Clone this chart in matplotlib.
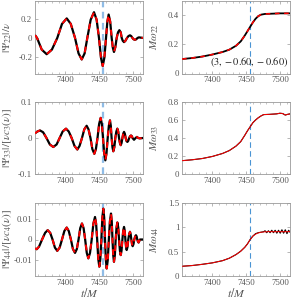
import numpy as np
import matplotlib
matplotlib.use('Agg')
import matplotlib.pyplot as plt
from matplotlib.ticker import MultipleLocator

plt.rcParams['font.family'] = 'serif'
plt.rcParams['font.serif'] = ['Liberation Serif', 'DejaVu Serif']
plt.rcParams['mathtext.fontset'] = 'stix'
plt.rcParams['axes.unicode_minus'] = False

# ---- data ----
t_peak = 7455.3
params_label = r'$(3, -0.60, -0.60)$'

t22 = [7355, 7358, 7365, 7372.3, 7380, 7388, 7395, 7402, 7408, 7414.3, 7419.5, 7424.2,
       7428.5, 7432.5, 7437.5, 7442.4, 7446.3, 7449.8, 7452.7, 7455.3, 7457.8, 7460.2,
       7462.2, 7464.1, 7466.4, 7468.6, 7470.3, 7472, 7474, 7476, 7478, 7480, 7482, 7483.5,
       7485, 7486.9, 7489, 7491.3, 7493.5, 7495.7, 7497.5, 7499.4, 7501, 7503, 7505, 7507,
       7509, 7511, 7515]
psi22 = [0.03, 0.0, -0.125, -0.174, -0.125, 0.0, 0.15, 0.209, 0.15, 0.0, -0.165, -0.23,
         -0.165, 0.0, 0.195, 0.275, 0.195, 0.0, -0.21, -0.30, -0.21, 0.0,
         0.175, 0.25, 0.175, 0.0, -0.105, -0.15, -0.1, 0.0, 0.06, 0.083, 0.06, 0.0,
         -0.03, -0.045, -0.03, 0.0, 0.02, 0.028, 0.02, 0.0, -0.014, -0.02, -0.014, 0.0,
         0.006, 0.004, 0.0]

t33 = [7355, 7358.5, 7362.4, 7367, 7372, 7377, 7382.1, 7387, 7391.5, 7396, 7400.9, 7405,
       7409.3, 7413.5, 7417.7, 7421, 7424.6, 7428, 7431.5, 7434.3, 7437.2, 7440, 7442.9,
       7445.2, 7447.6, 7450, 7452.3, 7454, 7455.8, 7457.5, 7459.2, 7460.9, 7462.7, 7464.4,
       7466.1, 7467.3, 7468.5, 7469.8, 7471, 7472.5, 7474, 7475.5, 7477, 7478.3, 7479.5,
       7480.8, 7482, 7483.2, 7484.5, 7485.7, 7486.9, 7488.1, 7489.3, 7490.5, 7491.8,
       7493.1, 7494.5, 7495.9, 7497.2, 7498.5, 7499.5, 7501.7, 7504, 7506, 7508, 7510, 7515]
psi33 = [0.013, 0.018, 0.021, 0.016, 0.0, -0.018, -0.025, -0.018, 0.0, 0.018, 0.026, 0.018,
         0.0, -0.022, -0.032, -0.022, 0.0, 0.024, 0.034, 0.024, 0.0, -0.031, -0.044,
         -0.031, 0.0, 0.039, 0.056, 0.039, 0.0, -0.043, -0.062, -0.043, 0.0, 0.034,
         0.049, 0.034, 0.0, -0.026, -0.037, -0.026, 0.0, 0.018, 0.026, 0.018, 0.0,
         -0.014, -0.02, -0.014, 0.0, 0.012, 0.017, 0.012, 0.0, -0.008, -0.011,
         -0.008, 0.0, 0.005, 0.007, 0.005, 0.0, -0.005, 0.0, 0.003, 0.0, -0.001, 0.0]

t44 = [7355, 7357.5, 7361, 7365.5, 7370, 7373.8, 7377.5, 7381, 7384.5, 7388, 7391.5, 7395,
       7398.5, 7402, 7405, 7408.2, 7411.2, 7414.3, 7417, 7419.5, 7422, 7424.6, 7427,
       7429.3, 7431.7, 7434, 7436.5, 7439, 7441.5, 7443.9, 7445.5, 7447.1, 7448.7, 7450.3,
       7451.8, 7453.3, 7454.8, 7456.2, 7457.5, 7458.7, 7460, 7461.2, 7462.8, 7464.4, 7466,
       7467.6, 7468.7, 7469.8, 7470.9, 7472, 7473.3, 7474.5, 7475.8, 7477, 7478.3, 7479.5,
       7480.8, 7482, 7483.2, 7484.5, 7485.7, 7486.9, 7487.9, 7488.9, 7489.9, 7490.8, 7492,
       7493.2, 7494.5, 7495.7, 7496.7, 7497.7, 7498.7, 7499.7, 7500.9, 7502.1, 7503.4,
       7504.6, 7505.6, 7506.5, 7507.5, 7508.5, 7510.5, 7515]
psi44 = [-0.0044, -0.0048, -0.0035, 0.0, 0.0033, 0.0046, 0.0033, 0.0, -0.004, -0.0056, -0.004, 0.0,
         0.0042, 0.0059, 0.0042, 0.0, -0.0047, -0.0066, -0.0047, 0.0, 0.0056, 0.0079, 0.0056,
         0.0, -0.0066, -0.0093, -0.0066, 0.0, 0.0079, 0.0111, 0.0079, 0.0, -0.0095, -0.0134,
         -0.0095, 0.0, 0.0108, 0.0152, 0.0108, 0.0, -0.0101, -0.0143, -0.0101, 0.0, 0.0091,
         0.0128, 0.0091, 0.0, -0.0078, -0.011, -0.0078, 0.0, 0.006, 0.0084, 0.006, 0.0,
         -0.0055, -0.0077, -0.0055, 0.0, 0.0044, 0.0062, 0.0044, 0.0, -0.0037, -0.0052, -0.0037,
         0.0, 0.0027, 0.0038, 0.0027, 0.0, -0.0023, -0.0033, -0.0023, 0.0, 0.0015,
         0.0021, 0.0015, 0.0, -0.001, -0.0015, 0.0, 0.0]

tw22 = [7355, 7370, 7385, 7400, 7415, 7425, 7435, 7442, 7448, 7452, 7456, 7460, 7464,
        7468, 7472, 7478, 7490, 7500, 7515]
omega22 = [0.099, 0.106, 0.116, 0.13, 0.147, 0.163, 0.19, 0.22, 0.26, 0.29, 0.32, 0.35,
           0.375, 0.393, 0.403, 0.408, 0.41, 0.412, 0.412]

tw33 = [7355, 7370, 7385, 7400, 7415, 7425, 7435, 7442, 7448, 7452, 7456, 7460, 7464,
        7468, 7472, 7476, 7485, 7495, 7500, 7504, 7508, 7511, 7515]
omega33 = [0.148, 0.158, 0.172, 0.195, 0.228, 0.26, 0.31, 0.36, 0.43, 0.48, 0.525, 0.57,
           0.6, 0.625, 0.645, 0.66, 0.663, 0.668, 0.675, 0.672, 0.655, 0.662, 0.668]

tw44 = [7355, 7370, 7385, 7400, 7415, 7425, 7435, 7442, 7448, 7452, 7456, 7460, 7464,
        7468, 7472, 7476, 7478, 7480.5, 7483, 7485.5, 7488, 7490.5, 7493, 7495.5, 7498,
        7500.5, 7503, 7505.5, 7508, 7510.5, 7513, 7515]
omega44 = [0.2, 0.215, 0.24, 0.27, 0.315, 0.365, 0.44, 0.51, 0.59, 0.66, 0.75, 0.82, 0.87,
           0.89, 0.9, 0.91, 0.93, 0.89, 0.93, 0.89, 0.94, 0.89, 0.94, 0.88, 0.94,
           0.88, 0.95, 0.88, 0.95, 0.87, 0.94, 0.9]
omega44_model = [0.2, 0.215, 0.24, 0.27, 0.315, 0.365, 0.44, 0.51, 0.59, 0.66, 0.75, 0.82, 0.86,
                 0.885, 0.9, 0.905, 0.91, 0.905, 0.915, 0.905, 0.915, 0.905, 0.915, 0.905, 0.915,
                 0.905, 0.915, 0.905, 0.915, 0.905, 0.915, 0.91]

left_data = [(t22, psi22, r'$|\Psi_{22}|/\nu$', (-0.38, 0.4), [-0.2, 0, 0.2], ['-0.2', '0', '0.2']),
             (t33, psi33, r'$|\Psi_{33}|/[\nu c_3(\nu)]$', (-0.1, 0.1), [-0.1, 0, 0.1], ['-0.1', '0', '0.1']),
             (t44, psi44, r'$|\Psi_{44}|/[\nu c_4(\nu)]$', (-0.018, 0.018), [-0.01, 0, 0.01], ['-0.01', '0', '0.01'])]
right_data = [(tw22, omega22, omega22, r'$M\omega_{22}$', (0, 0.5), [0, 0.2, 0.4], ['0', '0.2', '0.4'], 1.3),
              (tw33, omega33, omega33, r'$M\omega_{33}$', (0, 0.8), [0, 0.2, 0.4, 0.6, 0.8], ['0', '0.2', '0.4', '0.6', '0.8'], 0.8),
              (tw44, omega44, omega44_model, r'$M\omega_{44}$', (0, 1.5), [0, 0.5, 1, 1.5], ['0', '0.5', '1', '1.5'], 0.8)]

W, H = 291, 301
fig = plt.figure(figsize=(W / 100, H / 100), dpi=100)

rows_px = [(0.5, 73.5), (102, 174), (203, 276)]
cols_px = [(35, 143), (182, 290)]

grey = '#555555'
xlim = (7355, 7515)


def style(ax):
    for s in ax.spines.values():
        s.set_color('#9a9a9a')
        s.set_linewidth(0.6)
    ax.tick_params(direction='in', top=True, right=True, length=2.2, width=0.5,
                   colors='#9a9a9a', labelcolor=grey, labelsize=6.3, pad=2)
    ax.tick_params(which='minor', direction='in', top=True, length=1.2, width=0.4, colors='#9a9a9a')
    ax.set_xlim(*xlim)
    ax.set_xticks([7400, 7450, 7500])
    ax.xaxis.set_minor_locator(MultipleLocator(10))


for r, (y0, y1) in enumerate(rows_px):
    for c, (x0, x1) in enumerate(cols_px):
        ax = fig.add_axes([x0 / W, 1 - y1 / H, (x1 - x0) / W, (y1 - y0) / H])
        style(ax)
        if c == 0:
            t, y, lab, yl, yt, ytl = left_data[r]
            ax.axvline(t_peak, color='#8fbce6', lw=1.6, ls=(0, (3, 2)), zorder=1)
            ax.plot(t, y, color='black', lw=1.6, zorder=2)
            ax.plot(t, y, color='#ff0000', lw=1.4, ls=(0, (3, 3)), zorder=3)
        else:
            t, y, ym, lab, yl, yt, ytl, lw = right_data[r]
            ax.axvline(t_peak, color='#4a94d4', lw=0.8, ls=(0, (5, 3)), zorder=1)
            ax.plot(t, y, color='black', lw=lw, zorder=2)
            ax.plot(t, ym, color='#ff0000', lw=lw * 0.85, ls=(0, (3, 3)) if r == 0 else '-', zorder=3)
        ax.set_ylim(*yl)
        ax.set_yticks(yt)
        ax.set_yticklabels(ytl)
        ax.set_ylabel(lab, fontsize=8, color=grey)
        ax.yaxis.set_label_coords(-0.19, 0.5)
        if r == 2:
            ax.set_xlabel(r'$t/M$', fontsize=8.5, color=grey, labelpad=0)
        if r == 0 and c == 1:
            ax.text(0.985, 0.06, params_label, transform=ax.transAxes, ha='right', va='bottom',
                    fontsize=7.5, color='#222222', zorder=5)

fig.savefig('out.png', dpi=100)
